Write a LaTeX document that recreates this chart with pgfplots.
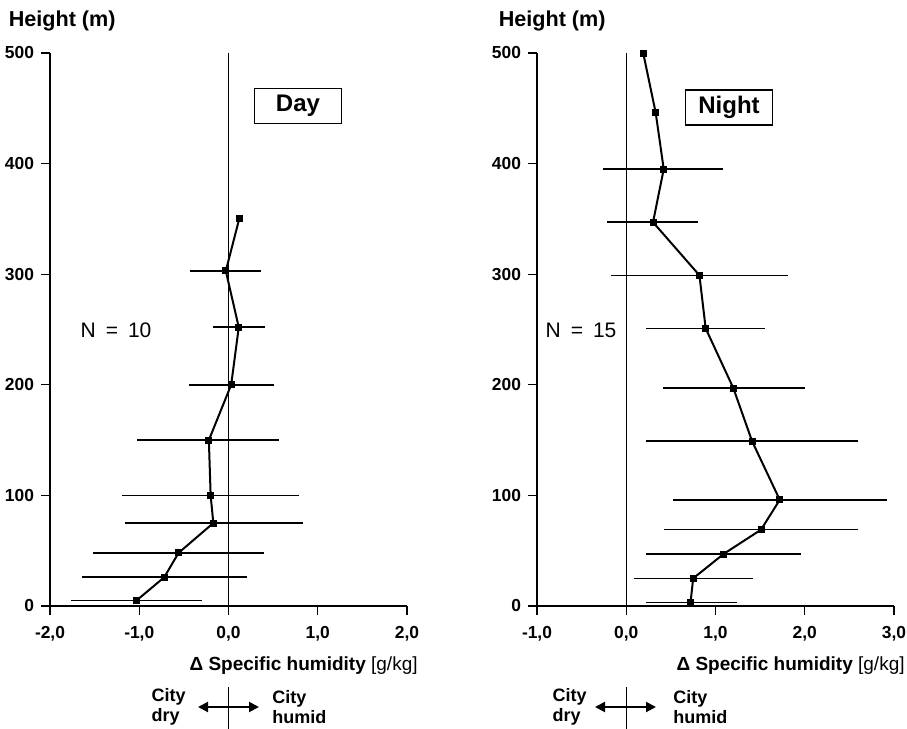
\documentclass[border=0pt]{standalone}
\usepackage{fontspec}
\setmainfont{Liberation Sans}
\usepackage{pgfplots}
\usepackage{pgfplotstable}
\pgfplotsset{compat=1.18}
\usetikzlibrary{arrows.meta}

% y = height (m), x = delta specific humidity, xm/xp = error bar halves
\pgfplotstableread{
y   x      xm    xp
5   -1.03  0.73  0.73
26  -0.72  0.92  0.93
48  -0.56  0.96  0.96
75  -0.17  0.99  1.01
100 -0.20  0.99  0.99
150 -0.22  0.80  0.79
200  0.03  0.47  0.48
252  0.115 0.285 0.295
303 -0.03  0.40  0.39
350  0.12  0     0
}\daydata

\pgfplotstableread{
y   x     xm    xp
3   0.72  0.50  0.52
25  0.75  0.66  0.67
47  1.09  0.87  0.87
69  1.51  1.09  1.09
96  1.72  1.20  1.20
149 1.41  1.19  1.19
197 1.20  0.79  0.80
251 0.89  0.67  0.66
299 0.82  0.99  0.99
347 0.30  0.52  0.50
395 0.42  0.68  0.66
446 0.33  0     0
500 0.19  0     0
}\nightdata

\pgfplotsset{
  hum/.style={
    scale only axis, width=178.5pt, height=276.5pt,
    anchor=south west, clip=false,
    axis lines=left, axis line style={-, line width=0.6pt},
    tick align=outside, major tick length=4.5pt,
    tick style={line width=0.6pt, black},
    ymin=0, ymax=500, ytick={0,100,...,500},
    ticklabel style={font=\fontsize{8.7}{10}\selectfont\bfseries},
    /pgf/number format/assume math mode=true,
    xticklabel style={yshift=-2pt, /pgf/number format/.cd, fixed, fixed zerofill, precision=1, use comma},
  },
  prof/.style={
    black, line width=1pt, mark=square*, mark size=1.25pt,
    error bars/.cd, x dir=both, x explicit, error mark=none,
    error bar style={line width=0.8pt},
  },
}

\begin{document}
\begin{tikzpicture}
\useasboundingbox (0,0) rectangle (453.5pt,-364.5pt);

% Day
\begin{axis}[hum, at={(25pt,-303pt)}, xmin=-2, xmax=2, xtick={-2,-1,...,2}]
  \addplot[black, line width=0.5pt] coordinates {(0,0) (0,500)};
  \addplot[prof] table[x=x, y=y, x error minus=xm, x error plus=xp] {\daydata};
\end{axis}

% Night
\begin{axis}[hum, at={(268.5pt,-303pt)}, xmin=-1, xmax=3, xtick={-1,0,...,3}]
  \addplot[black, line width=0.6pt] coordinates {(0,0) (0,500)};
  \addplot[prof] table[x=x, y=y, x error minus=xm, x error plus=xp] {\nightdata};
\end{axis}

\begin{scope}[font=\fontsize{10.8}{12}\selectfont\bfseries]
  \node[anchor=base west, inner sep=0] at (4.2pt,-13.3pt) {Height (m)};
  \node[anchor=base west, inner sep=0] at (249.2pt,-13.3pt) {Height (m)};
\end{scope}

\begin{scope}[every node/.style={draw, line width=0.6pt, minimum width=43.5pt, minimum height=17.5pt, inner sep=0, font=\fontsize{12}{14}\selectfont\bfseries}]
  \node at (149pt,-53pt) {Day};
  \node at (364.5pt,-53.75pt) {Night};
\end{scope}

\node[font=\fontsize{10.5}{12}\selectfont] at (58pt,-165pt) {N\hspace{5pt}=\hspace{5pt}10};
\node[font=\fontsize{10.5}{12}\selectfont] at (290.5pt,-165pt) {N\hspace{5pt}=\hspace{5pt}15};

\node[anchor=base east, inner sep=0, font=\fontsize{9.5}{11}\selectfont] at (209pt,-335pt) {\textbf{Δ Specific humidity} [g/kg]};
\node[anchor=base east, inner sep=0, font=\fontsize{9.5}{11}\selectfont] at (452.5pt,-335pt) {\textbf{Δ Specific humidity} [g/kg]};

\begin{scope}[every node/.style={inner sep=0, align=left, font=\fontsize{9}{10}\selectfont\bfseries}]
  \node[anchor=east] at (93pt,-353.5pt) {City\\dry};
  \node[anchor=west] at (136pt,-353.5pt) {City\\humid};
  \node[anchor=east] at (293.5pt,-353.5pt) {City\\dry};
  \node[anchor=west] at (336.5pt,-353.5pt) {City\\humid};
\end{scope}
\draw[line width=1pt, {Triangle[length=5pt,width=5pt]}-{Triangle[length=5pt,width=5pt]}] (99pt,-353.5pt) -- (129.5pt,-353.5pt);
\draw[line width=0.5pt] (114pt,-343.5pt) -- (114pt,-364.5pt);
\draw[line width=1pt, {Triangle[length=5pt,width=5pt]}-{Triangle[length=5pt,width=5pt]}] (297.5pt,-353.5pt) -- (328pt,-353.5pt);
\draw[line width=0.5pt] (313pt,-343.5pt) -- (313pt,-364.5pt);
\end{tikzpicture}
\end{document}
